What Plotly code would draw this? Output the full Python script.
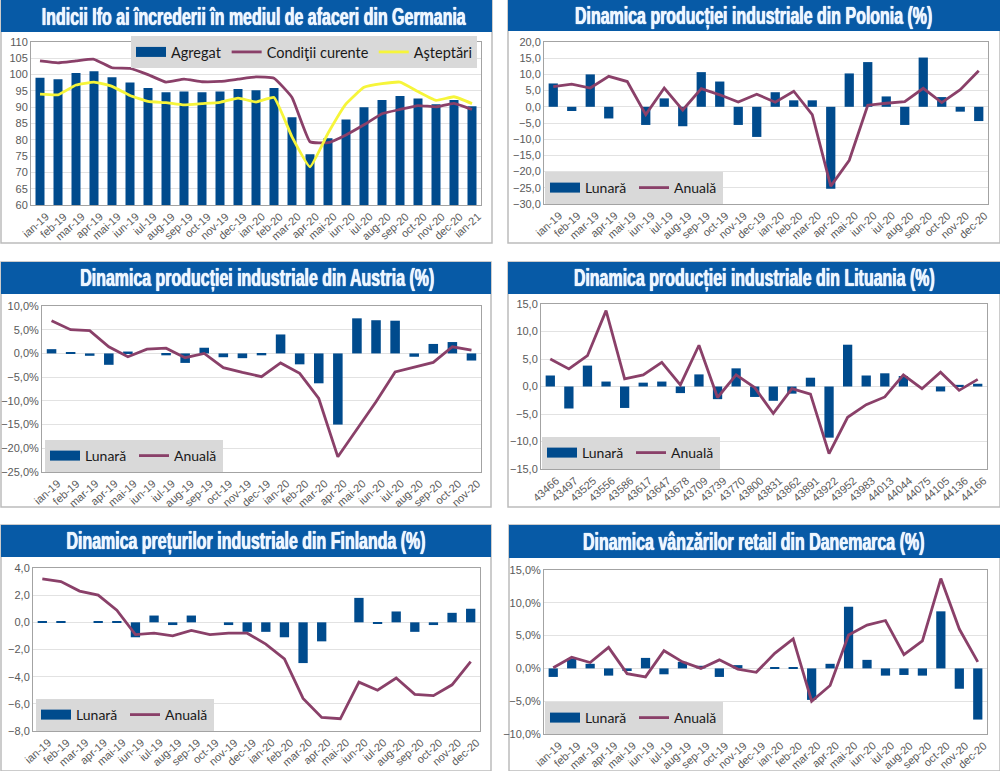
import plotly.graph_objects as go
from plotly.subplots import make_subplots

WIDTH = 1000
HEIGHT = 771

BAR_BLUE = '#004b8d'
LINE_PURPLE = '#8a4069'
YELLOW = '#f6f53a'
BANNER_BLUE = '#075aa6'
TICK_GREY = '#5a5a5a'

months_24 = ['ian-19', 'feb-19', 'mar-19', 'apr-19', 'mai-19', 'iun-19', 'iul-19', 'aug-19',
             'sep-19', 'oct-19', 'nov-19', 'dec-19', 'ian-20', 'feb-20', 'mar-20', 'apr-20',
             'mai-20', 'iun-20', 'iul-20', 'aug-20', 'sep-20', 'oct-20', 'nov-20', 'dec-20']
months_25 = months_24 + ['ian-21']
months_23 = months_24[:-1]
serial_dates = ['43466', '43497', '43525', '43556', '43586', '43617', '43647', '43678',
                '43709', '43739', '43770', '43800', '43831', '43862', '43891', '43922',
                '43952', '43983', '44013', '44044', '44075', '44105', '44136', '44166']

germany_agregat = [99, 98.6, 100.5, 101, 99.2, 97.6, 95.9, 94.6, 94.8, 94.6, 94.8, 95.6, 95.2,
                   95.9, 86.9, 75.6, 80.5, 86.2, 90, 92.2, 93.4, 92.7, 90.9, 92.2, 90.3]
germany_curente = [104.2, 103.6, 104.2, 104.7, 102.1, 101.9, 100, 97.7, 98.6, 97.8, 97.9, 98.6, 99.3,
                   98.9, 93, 79.4, 79.1, 81.5, 84.6, 88, 89.3, 90.5, 90.1, 91.2, 89.3]
germany_asteptari = [94, 93.8, 96.8, 97.7, 96.4, 93.6, 91.8, 91.4, 90.7, 91.1, 91.5, 92.8, 91.6,
                     93, 80.9, 71.7, 82, 91, 96.1, 97.2, 97.7, 94.8, 92.1, 93.2, 91.1]

poland_lunara = [7.2, -1.3, 10, -3.6, 0, -5.6, 2.6, -6, 10.7, 7.8, -5.6, -9.3,
                 4.5, 2, 2, -25.3, 10.3, 13.8, 3.2, -5.6, 15.2, 3, -1.5, -4.4]
poland_anuala = [6.2, 7, 5.8, 9.4, 7.8, -2.4, 5.8, -1, 5.6, 3.7, 1.5, 3.9,
                 1.4, 4.8, -2.4, -24.5, -16.5, 0.5, 1.1, 1.6, 5.7, 1.3, 5.3, 11.1]

austria_lunara = [0.9, 0.1, -0.5, -2.4, 0.4, 0, -0.4, -2, 1.2, -0.8, -1, -0.4,
                  4, -2.3, -6.3, -15, 7.4, 7, 6.9, -0.7, 2, 2.4, -1.5]
austria_anuala = [6.9, 5, 4.8, 1.4, -0.7, 0.9, 1.1, -0.9, 0, -3, -4, -4.9,
                  -2, -4.2, -9.5, -21.8, -16, -10.2, -3.9, -2.9, -1.9, 1.4, 0.7]

lithuania_lunara = [2, -4, 3.8, 0.9, -3.9, 0.7, 0.9, -1.2, 2.2, -2.3, 3.3, -1.9,
                    -2.6, -1.3, 1.6, -9.3, 7.6, 2, 2.4, 1.9, 0, -0.9, 0.3, 0.5]
lithuania_anuala = [5, 3.2, 5.6, 13.8, 1.4, 2.1, 4.4, 0.3, 7.5, -2, 2.1, -0.2,
                    -4.9, -0.4, -1.4, -12.2, -5.6, -3.3, -1.9, 2.1, -0.4, 2.6, -0.7, 1.3]

finland_lunara = [0.1, 0.1, 0, 0.1, 0.1, -1.1, 0.5, -0.2, 0.5, 0, -0.2, -0.7,
                  -0.7, -1.1, -3, -1.4, 0, 1.8, -0.1, 0.8, -0.7, -0.2, 0.7, 1]
finland_anuala = [3.2, 3, 2.3, 2, 0.9, -0.9, -0.8, -1, -0.6, -0.9, -0.8, -0.8,
                  -1.6, -2.7, -5.6, -7, -7.1, -4.4, -5, -4.1, -5.3, -5.4, -4.6, -2.9]

denmark_lunara = [-1.3, 1.5, 0.7, -1.1, -0.4, 1.6, -0.9, 1, 0.4, -1.3, 0.5, 0,
                  0.1, 0.2, -4.8, 0.7, 9.4, 1.3, -1.1, -1, -1.1, 8.7, -3.1, -7.8]
denmark_anuala = [0.1, 1.7, 0.9, 3.2, -0.8, -1.3, 2.7, 1, 0, 1.3, -0.1, -0.6,
                  2.3, 4.5, -5, -2.6, 5.1, 6.6, 7.3, 2.1, 4.2, 13.7, 6, 1]


def px_x(x):
    return x / WIDTH


def px_y(y):
    return 1 - y / HEIGHT


def style_panel(fig, row, col, plot_box, y_range, y_step, y_format, title, banner, card):
    """Place one panel by its pixel boxes: axes, card, blue banner and title."""
    left, top, right, bottom = plot_box
    fig.update_xaxes(row=row, col=col, domain=[px_x(left), px_x(right)], type='category',
                     tickangle=-42, automargin=False, ticklabelshift=6,
                     tickfont=dict(family='Liberation Sans', size=11, color=TICK_GREY),
                     showline=True, mirror=True, linecolor='#a3a3a3', linewidth=1,
                     showgrid=False, zeroline=False, ticks='')
    fig.update_yaxes(row=row, col=col, domain=[px_y(bottom), px_y(top)], range=y_range, dtick=y_step,
                     tickformat=y_format, automargin=False,
                     tickfont=dict(family='Liberation Sans', size=11, color=TICK_GREY),
                     showline=True, mirror=True, linecolor='#a3a3a3', linewidth=1,
                     showgrid=True, gridcolor='#e2e2e2', gridwidth=1,
                     zeroline=True, zerolinecolor='#e2e2e2', zerolinewidth=1, ticks='')

    fig.add_shape(type='rect', xref='paper', yref='paper', layer='below',
                  x0=px_x(card[0]), x1=px_x(card[2]), y0=px_y(card[3]), y1=px_y(card[1]),
                  line=dict(color='#bcbcbc', width=1.5), fillcolor='white')
    fig.add_shape(type='rect', xref='paper', yref='paper', layer='below',
                  x0=px_x(banner[0]), x1=px_x(banner[2]), y0=px_y(banner[3]), y1=px_y(banner[1]),
                  line=dict(width=0), fillcolor=BANNER_BLUE)
    fig.add_annotation(xref='paper', yref='paper', showarrow=False,
                       x=px_x(title[1]), y=px_y((banner[1] + banner[3]) / 2), xanchor='center', yanchor='middle',
                       text=title[0],
                       font=dict(family='Liberation Sans', size=24, weight=700, color='#eef7ff',
                                 shadow='0 0 1px #eef7ff, 0 0 1px #eef7ff'))


def add_bars(fig, row, col, x, y, name, legend):
    """Bars plus a hidden wide line that gives the legend its long blue key."""
    fig.add_trace(go.Bar(x=x, y=y, name=name, marker_color=BAR_BLUE, marker_line_width=0,
                         legendgroup=legend + name, showlegend=False), row=row, col=col)
    fig.add_trace(go.Scatter(x=[None], y=[None], mode='lines', name=name, legend=legend,
                             legendgroup=legend + name, line=dict(color=BAR_BLUE, width=12)),
                  row=row, col=col)


def add_line(fig, row, col, x, y, name, legend, color=LINE_PURPLE, smooth=False):
    line = dict(color=color, width=2.8)
    if smooth:
        line.update(shape='spline', smoothing=0.35)
    fig.add_trace(go.Scatter(x=x, y=y, mode='lines', name=name, legend=legend, line=line),
                  row=row, col=col)


def legend_at(left, bottom, size=14, entrywidth=44):
    """Grey horizontal legend sitting on the bottom edge of a plot."""
    legend = dict(x=px_x(left), y=px_y(bottom), xanchor='left', yanchor='bottom', orientation='h',
                  bgcolor='#d9d9d9', borderwidth=0, itemwidth=30, itemsizing='trace',
                  font=dict(family='Lato', size=size, color='#1a1a1a'))
    if entrywidth:
        legend.update(entrywidth=entrywidth, entrywidthmode='pixels')
    return legend


fig = make_subplots(rows=3, cols=2)

# Germania
add_bars(fig, 1, 1, months_25, germany_agregat, 'Agregat', 'legend')
add_line(fig, 1, 1, months_25, germany_curente, 'Condiţii curente', 'legend', smooth=True)
add_line(fig, 1, 1, months_25, germany_asteptari, 'Aşteptări', 'legend', color=YELLOW, smooth=True)
style_panel(fig, 1, 1, (31, 42, 481, 205), [60, 110], 5, 'd',
            ('Indicii Ifo ai încrederii în mediul de afaceri din Germania', 254),
            (1, 0, 492, 32), (1, 0, 492, 243))

# Polonia
add_bars(fig, 1, 2, months_24, poland_lunara, 'Lunară', 'legend2')
add_line(fig, 1, 2, months_24, poland_anuala, 'Anuală', 'legend2')
style_panel(fig, 1, 2, (544, 42, 988, 204), [-30, 20], 5, '.1f',
            ('Dinamica producției industriale din Polonia (%)', 753),
            (508, 0, 1000, 31), (508, 0, 1000, 243))

# Austria
add_bars(fig, 2, 1, months_23, austria_lunara, 'Lunară', 'legend3')
add_line(fig, 2, 1, months_23, austria_anuala, 'Anuală', 'legend3')
style_panel(fig, 2, 1, (42, 306, 481, 472), [-25, 10], 5, '.1f',
            ('Dinamica producției industriale din Austria (%)', 257),
            (1, 262, 491, 294), (1, 262, 491, 507))

# Lituania
add_bars(fig, 2, 2, serial_dates, lithuania_lunara, 'Lunară', 'legend4')
add_line(fig, 2, 2, serial_dates, lithuania_anuala, 'Anuală', 'legend4')
style_panel(fig, 2, 2, (541, 304, 987, 469), [-15, 15], 5, '.1f',
            ('Dinamica producției industriale din Lituania (%)', 754),
            (508, 262, 1000, 294), (508, 262, 1000, 507))

# Finlanda
add_bars(fig, 3, 1, months_24, finland_lunara, 'Lunară', 'legend5')
add_line(fig, 3, 1, months_24, finland_anuala, 'Anuală', 'legend5')
style_panel(fig, 3, 1, (33, 568, 480, 731), [-8, 4], 2, '.1f',
            ('Dinamica prețurilor industriale din Finlanda (%)', 246),
            (1, 525, 491, 557), (1, 525, 491, 771))

# Danemarca
add_bars(fig, 3, 2, months_24, denmark_lunara, 'Lunară', 'legend6')
add_line(fig, 3, 2, months_24, denmark_anuala, 'Anuală', 'legend6')
style_panel(fig, 3, 2, (544, 570, 987, 734), [-10, 15], 5, '.1f',
            ('Dinamica vânzărilor retail din Danemarca (%)', 754),
            (509, 525, 1000, 558), (509, 525, 1000, 771))

fig.update_layout(width=WIDTH, height=HEIGHT, margin=dict(l=0, r=0, t=0, b=0, pad=0),
                  paper_bgcolor='white', plot_bgcolor='rgba(0,0,0,0)',
                  bargap=0.5, separators=',.', hovermode=False,
                  legend=legend_at(131, 68, size=14.5, entrywidth=None),
                  legend2=legend_at(545, 204),
                  legend3=legend_at(45, 472),
                  legend4=legend_at(542, 469),
                  legend5=legend_at(36, 731),
                  legend6=legend_at(545, 734))

# the percent panels show 10,0% style ticks
fig.update_yaxes(row=2, col=1, ticksuffix='%')
fig.update_yaxes(row=3, col=2, ticksuffix='%')

# condense the banner titles, no narrow font is installed
squeeze_titles = """
document.body.style.margin = '0';
document.querySelectorAll('.annotation-text').forEach(function (el) {
    el.setAttribute('textLength', el.getComputedTextLength() * 0.665);
    el.setAttribute('lengthAdjust', 'spacingAndGlyphs');
});
"""

fig.write_html("out.html", post_script=squeeze_titles, config={'displayModeBar': False})
